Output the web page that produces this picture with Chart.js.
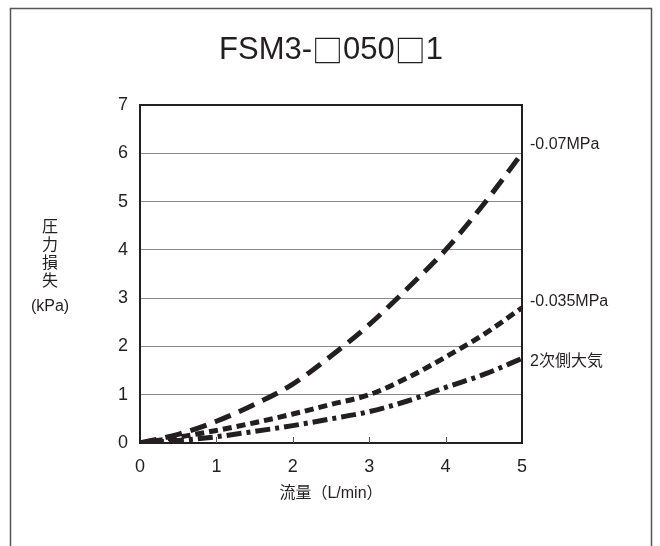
<!DOCTYPE html>
<html>
<head>
<meta charset="utf-8">
<script src="https://cdn.jsdelivr.net/npm/chart.js@4/dist/chart.umd.min.js"></script>
<style>
  html, body { margin: 0; padding: 0; background: #fff; }
  #wrap { width: 660px; height: 546px; position: relative; }
</style>
</head>
<body>
<div id="wrap"><canvas id="lossChart" width="660" height="546"></canvas></div>
<script>
const flow = [0, 0.5, 1, 1.5, 2, 2.5, 3, 3.5, 4, 4.5, 5];
const loss007 = [0, 0.18, 0.45, 0.8, 1.22, 1.8, 2.45, 3.2, 4.0, 4.95, 6.0];
const loss0035 = [0, 0.12, 0.26, 0.42, 0.6, 0.8, 1.0, 1.35, 1.78, 2.25, 2.8];
const lossAtm = [0, 0.05, 0.13, 0.24, 0.36, 0.5, 0.65, 0.87, 1.15, 1.42, 1.75];
const seriesLabels = ["-0.07MPa", "-0.035MPa", "2次側大気"];
const xTicks = [0, 1, 2, 3, 4, 5];
const yTicks = [0, 1, 2, 3, 4, 5, 6, 7];

const FONT = "'Liberation Sans', 'Noto Sans CJK JP', sans-serif";
const CJK = "'Noto Sans CJK JP', sans-serif";
const INK = "#231f20";

function toPoints(values) {
  return values.map((v, i) => ({ x: flow[i], y: v }));
}

// title pieces, the boxes come from the CJK font so they are full width
const titleParts = [
  ["FSM3-", FONT],
  ["□", CJK],
  ["050", FONT],
  ["□", CJK],
  ["1", FONT],
];

function drawTitle(ctx, cx, cy, size) {
  let total = 0;
  titleParts.forEach(([t, f]) => {
    ctx.font = size + "px " + f;
    total += ctx.measureText(t).width;
  });
  let x = cx - total / 2;
  ctx.textAlign = "left";
  titleParts.forEach(([t, f]) => {
    ctx.font = size + "px " + f;
    ctx.fillText(t, x, cy);
    x += ctx.measureText(t).width;
  });
}

const decorPlugin = {
  id: "decor",
  afterDraw(chart) {
    const { ctx, chartArea: area, scales } = chart;
    ctx.save();

    // outer frame
    ctx.strokeStyle = "#555";
    ctx.lineWidth = 1.5;
    ctx.beginPath();
    ctx.moveTo(10.5, 546);
    ctx.lineTo(10.5, 8.5);
    ctx.lineTo(651.5, 8.5);
    ctx.lineTo(651.5, 546);
    ctx.stroke();

    // plot frame
    ctx.strokeStyle = INK;
    ctx.lineWidth = 2;
    ctx.strokeRect(area.left, area.top, area.right - area.left, area.bottom - area.top);

    // inner x ticks
    ctx.lineWidth = 1;
    ctx.strokeStyle = "#555";
    xTicks.slice(1, -1).forEach((t) => {
      const px = Math.round(scales.x.getPixelForValue(t)) + 0.5;
      ctx.beginPath();
      ctx.moveTo(px, area.bottom);
      ctx.lineTo(px, area.bottom - 6);
      ctx.stroke();
    });

    ctx.fillStyle = INK;
    ctx.textBaseline = "middle";

    drawTitle(ctx, 331, 50, 31);

    // axis titles
    ctx.textAlign = "center";
    ctx.font = "16px " + FONT;
    ctx.fillText("流量（L/min）", 331, 494);
    ["圧", "力", "損", "失"].forEach((ch, i) => {
      ctx.fillText(ch, 50, 228 + i * 18);
    });
    ctx.fillText("(kPa)", 50, 307);

    // series labels at right
    ctx.textAlign = "left";
    ctx.font = "16px " + FONT;
    const labelY = [6.0, 2.8, 1.75];
    const nudge = [-9, -6, 3];
    seriesLabels.forEach((label, i) => {
      ctx.fillText(label, area.right + 8, scales.y.getPixelForValue(labelY[i]) + nudge[i]);
    });

    ctx.restore();
  },
};

function lineSet(label, values, dash) {
  return {
    label,
    data: toPoints(values),
    borderColor: INK,
    borderWidth: 5,
    borderDash: dash,
    pointRadius: 0,
    tension: 0.4,
    cubicInterpolationMode: "monotone",
    fill: false,
  };
}

new Chart(document.querySelector("#lossChart"), {
  type: "line",
  data: {
    datasets: [
      lineSet(seriesLabels[0], loss007, [17, 9]),
      lineSet(seriesLabels[1], loss0035, [9, 5]),
      lineSet(seriesLabels[2], lossAtm, [15, 5, 4, 5]),
    ],
  },
  options: {
    responsive: false,
    animation: false,
    layout: { padding: { left: 0, right: 138, top: 105, bottom: 0 } },
    plugins: {
      legend: { display: false },
      tooltip: { enabled: false },
    },
    scales: {
      x: {
        type: "linear",
        min: 0,
        max: 5,
        afterFit(scale) { scale.height = 103; },
        afterBuildTicks(scale) { scale.ticks = xTicks.map((v) => ({ value: v })); },
        grid: { display: false },
        border: { display: false },
        ticks: { color: INK, padding: 5, font: { family: FONT, size: 18 } },
      },
      y: {
        min: 0,
        max: 7,
        afterFit(scale) { scale.width = 140; },
        afterBuildTicks(scale) { scale.ticks = yTicks.map((v) => ({ value: v })); },
        grid: { color: "#8a8a8a", lineWidth: 1, drawTicks: false },
        border: { display: false },
        ticks: { color: INK, padding: 12, font: { family: FONT, size: 18 } },
      },
    },
  },
  plugins: [decorPlugin],
});
</script>
</body>
</html>
